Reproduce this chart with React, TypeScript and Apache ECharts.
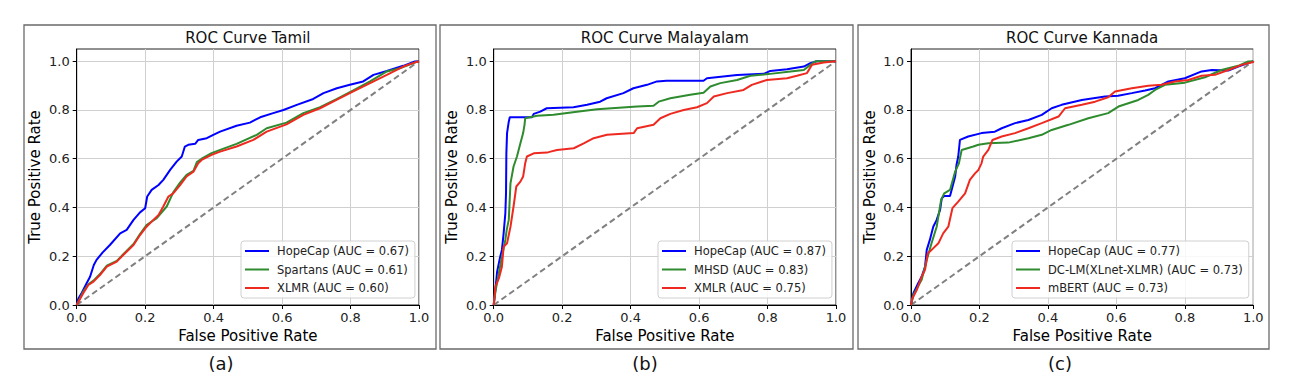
import React, { useEffect, useRef } from "react";
import * as echarts from "echarts";

type Pt = [number, number];

const panelTitles = ["ROC Curve Tamil", "ROC Curve Malayalam", "ROC Curve Kannada"];
const panelLabels = ["(a)", "(b)", "(c)"];
const axisTicks = [0, 0.2, 0.4, 0.6, 0.8, 1.0];

const tamilNames = ["HopeCap (AUC = 0.67)", "Spartans (AUC = 0.61)", "XLMR (AUC = 0.60)"];
const malayalamNames = ["HopeCap (AUC = 0.87)", "MHSD (AUC = 0.83)", "XMLR (AUC = 0.75)"];
const kannadaNames = ["HopeCap (AUC = 0.77)", "DC-LM(XLnet-XLMR) (AUC = 0.73)", "mBERT (AUC = 0.73)"];

const tamilHopeCap: Pt[] = [
  [0, 0], [0.005, 0.027], [0.015, 0.05], [0.029, 0.089], [0.039, 0.116], [0.05, 0.164], [0.058, 0.185],
  [0.076, 0.216], [0.097, 0.246], [0.127, 0.294], [0.146, 0.308], [0.166, 0.349], [0.185, 0.38],
  [0.2, 0.397], [0.206, 0.445], [0.219, 0.472], [0.239, 0.492], [0.253, 0.513], [0.273, 0.554],
  [0.292, 0.588], [0.307, 0.609], [0.316, 0.65], [0.326, 0.657], [0.346, 0.661], [0.355, 0.677],
  [0.38, 0.684], [0.399, 0.698], [0.419, 0.711], [0.467, 0.735], [0.506, 0.748], [0.536, 0.77],
  [0.574, 0.787], [0.604, 0.8], [0.643, 0.821], [0.691, 0.845], [0.721, 0.869], [0.76, 0.889],
  [0.798, 0.903], [0.837, 0.917], [0.867, 0.944], [0.906, 0.96], [0.954, 0.981], [0.988, 0.999], [1, 1],
];
const tamilSpartans: Pt[] = [
  [0, 0], [0.019, 0.055], [0.034, 0.085], [0.049, 0.1], [0.068, 0.127], [0.088, 0.161], [0.117, 0.181],
  [0.136, 0.208], [0.166, 0.25], [0.185, 0.291], [0.204, 0.328], [0.234, 0.356], [0.263, 0.404],
  [0.282, 0.462], [0.302, 0.502], [0.321, 0.534], [0.341, 0.55], [0.351, 0.586], [0.365, 0.6],
  [0.394, 0.623], [0.419, 0.636], [0.467, 0.661], [0.526, 0.698], [0.555, 0.725], [0.613, 0.748],
  [0.662, 0.787], [0.711, 0.811], [0.759, 0.844], [0.808, 0.88], [0.857, 0.917], [0.906, 0.958],
  [0.944, 0.971], [0.993, 0.997], [1, 1],
];
const tamilXLMR: Pt[] = [
  [0, 0], [0.019, 0.048], [0.034, 0.082], [0.049, 0.096], [0.068, 0.123], [0.088, 0.157], [0.117, 0.178],
  [0.136, 0.205], [0.166, 0.246], [0.185, 0.287], [0.204, 0.321], [0.224, 0.349], [0.239, 0.369],
  [0.253, 0.404], [0.268, 0.445], [0.282, 0.458], [0.302, 0.492], [0.321, 0.527], [0.341, 0.547],
  [0.355, 0.581], [0.365, 0.595], [0.394, 0.616], [0.419, 0.629], [0.467, 0.65], [0.516, 0.677],
  [0.555, 0.711], [0.613, 0.741], [0.662, 0.78], [0.711, 0.807], [0.759, 0.841], [0.808, 0.876],
  [0.857, 0.91], [0.906, 0.944], [0.954, 0.978], [0.993, 0.997], [1, 1],
];

const malayalamHopeCap: Pt[] = [
  [0, 0], [0.005, 0.062], [0.01, 0.137], [0.019, 0.198], [0.024, 0.226], [0.029, 0.294], [0.034, 0.376],
  [0.036, 0.458], [0.037, 0.622], [0.039, 0.705], [0.044, 0.752], [0.047, 0.77], [0.112, 0.77],
  [0.117, 0.784], [0.136, 0.793], [0.155, 0.807], [0.233, 0.811], [0.273, 0.821], [0.311, 0.834],
  [0.33, 0.848], [0.379, 0.869], [0.408, 0.889], [0.448, 0.903], [0.477, 0.917], [0.505, 0.92],
  [0.613, 0.92], [0.623, 0.93], [0.711, 0.943], [0.789, 0.948], [0.808, 0.96], [0.857, 0.967],
  [0.906, 0.978], [0.925, 0.992], [0.944, 1.0], [1, 1],
];
const malayalamMHSD: Pt[] = [
  [0, 0], [0.005, 0.055], [0.015, 0.13], [0.024, 0.198], [0.034, 0.267], [0.038, 0.308], [0.044, 0.349],
  [0.049, 0.499], [0.058, 0.568], [0.068, 0.609], [0.078, 0.663], [0.086, 0.705], [0.09, 0.739],
  [0.092, 0.766], [0.127, 0.776], [0.175, 0.78], [0.243, 0.793], [0.302, 0.803], [0.419, 0.814],
  [0.467, 0.817], [0.482, 0.834], [0.516, 0.848], [0.574, 0.862], [0.613, 0.871], [0.633, 0.896],
  [0.662, 0.91], [0.711, 0.923], [0.75, 0.94], [0.808, 0.948], [0.867, 0.958], [0.906, 0.964],
  [0.925, 0.985], [0.94, 1.0], [1, 1],
];
const malayalamXMLR: Pt[] = [
  [0, 0], [0.005, 0.075], [0.015, 0.109], [0.024, 0.157], [0.029, 0.239], [0.039, 0.253], [0.049, 0.321],
  [0.058, 0.404], [0.066, 0.486], [0.078, 0.506], [0.086, 0.527], [0.092, 0.581], [0.097, 0.609],
  [0.117, 0.622], [0.156, 0.625], [0.166, 0.629], [0.185, 0.636], [0.234, 0.643], [0.263, 0.663],
  [0.292, 0.684], [0.331, 0.698], [0.409, 0.705], [0.419, 0.725], [0.467, 0.739], [0.487, 0.766],
  [0.516, 0.784], [0.555, 0.8], [0.594, 0.811], [0.623, 0.828], [0.643, 0.855], [0.682, 0.869],
  [0.73, 0.882], [0.754, 0.903], [0.798, 0.923], [0.857, 0.93], [0.886, 0.94], [0.915, 0.951],
  [0.93, 0.985], [0.964, 0.995], [1, 1],
];

const kannadaHopeCap: Pt[] = [
  [0, 0], [0.007, 0.048], [0.021, 0.089], [0.031, 0.116], [0.041, 0.157], [0.046, 0.226], [0.055, 0.267],
  [0.065, 0.321], [0.075, 0.349], [0.085, 0.39], [0.09, 0.438], [0.097, 0.447], [0.114, 0.447],
  [0.12, 0.479], [0.129, 0.527], [0.133, 0.575], [0.138, 0.609], [0.143, 0.677], [0.167, 0.691],
  [0.206, 0.705], [0.245, 0.711], [0.265, 0.725], [0.304, 0.746], [0.343, 0.759], [0.382, 0.78],
  [0.411, 0.807], [0.44, 0.821], [0.499, 0.841], [0.567, 0.855], [0.605, 0.858], [0.645, 0.869],
  [0.684, 0.88], [0.713, 0.889], [0.752, 0.917], [0.8, 0.93], [0.849, 0.958], [0.879, 0.964],
  [0.927, 0.962], [0.956, 0.978], [0.995, 0.997], [1, 1],
];
const kannadaDCLM: Pt[] = [
  [0, 0], [0.007, 0.041], [0.031, 0.103], [0.046, 0.185], [0.06, 0.253], [0.075, 0.321], [0.088, 0.431],
  [0.097, 0.458], [0.114, 0.472], [0.129, 0.547], [0.14, 0.581], [0.148, 0.636], [0.182, 0.65],
  [0.197, 0.657], [0.226, 0.663], [0.284, 0.666], [0.343, 0.684], [0.382, 0.698], [0.411, 0.718],
  [0.46, 0.739], [0.518, 0.766], [0.576, 0.787], [0.606, 0.814], [0.664, 0.841], [0.693, 0.862],
  [0.713, 0.882], [0.742, 0.903], [0.8, 0.912], [0.859, 0.934], [0.907, 0.964], [0.956, 0.981],
  [0.985, 0.999], [1, 1],
];
const kannadaMBERT: Pt[] = [
  [0, 0], [0.004, 0.027], [0.017, 0.062], [0.031, 0.116], [0.041, 0.144], [0.049, 0.212], [0.055, 0.219],
  [0.08, 0.253], [0.094, 0.294], [0.109, 0.321], [0.121, 0.397], [0.138, 0.424], [0.158, 0.458],
  [0.172, 0.513], [0.187, 0.54], [0.197, 0.554], [0.206, 0.581], [0.211, 0.609], [0.226, 0.636],
  [0.238, 0.677], [0.265, 0.691], [0.304, 0.705], [0.343, 0.725], [0.382, 0.746], [0.431, 0.773],
  [0.45, 0.807], [0.499, 0.821], [0.538, 0.834], [0.576, 0.852], [0.596, 0.876], [0.645, 0.889],
  [0.693, 0.899], [0.732, 0.903], [0.771, 0.917], [0.81, 0.923], [0.849, 0.94], [0.888, 0.944],
  [0.927, 0.964], [0.966, 0.985], [1.0, 0.997], [1, 1],
];
const diagonal: Pt[] = [[0, 0], [1, 1]];

const COLORS = ["#0000ff", "#2e8b2e", "#ee2a20"];
const FONT = "DejaVu Sans";

export default function App() {
  const ref = useRef<HTMLDivElement>(null);
  useEffect(() => {
    document.body.style.margin = "0";
    const chart = echarts.init(ref.current!, null, { renderer: "svg" });

    const plots = [
      { left: 76.7, legendLeft: 241, legendWidth: 172, box: [24, 436], labelX: 221, names: tamilNames, data: [tamilHopeCap, tamilSpartans, tamilXLMR] },
      { left: 493.7, legendLeft: 658, legendWidth: 172, box: [440, 853], labelX: 645, names: malayalamNames, data: [malayalamHopeCap, malayalamMHSD, malayalamXMLR] },
      { left: 911, legendLeft: 1012, legendWidth: 235, box: [858, 1269], labelX: 1060, names: kannadaNames, data: [kannadaHopeCap, kannadaDCLM, kannadaMBERT] },
    ];
    const W = 342.3;
    const TOP = 49;
    const H = 256;

    const grids = plots.map((p) => ({
      left: p.left, top: TOP, width: W, height: H,
      show: true, borderColor: "#222", borderWidth: 1, backgroundColor: "transparent",
    }));
    const fmt = (v: number) => (Math.abs(v * 5 - Math.round(v * 5)) < 1e-6 ? v.toFixed(1) : "");
    const xAxes = plots.map((_, i) => ({
      type: "value", gridIndex: i, min: 0, max: 1, interval: 0.2,
      name: "False Positive Rate", nameLocation: "middle", nameGap: 21,
      nameTextStyle: { fontFamily: FONT, fontSize: 15, color: "#000" },
      axisLine: { show: true, lineStyle: { color: "#000", width: 1 } },
      axisTick: { show: true, inside: false, length: 4, lineStyle: { color: "#000" } },
      axisLabel: { fontFamily: FONT, fontSize: 13, color: "#222", margin: 6, formatter: fmt },
      splitLine: { show: true, lineStyle: { color: "#d0d0d0", width: 1 } },
    }));
    const yAxes = plots.map((_, i) => ({
      type: "value", gridIndex: i, min: 0, max: 1.05, interval: 0.2,
      name: "True Positive Rate", nameLocation: "middle", nameGap: 34, nameRotate: 90,
      nameTextStyle: { fontFamily: FONT, fontSize: 15, color: "#000" },
      axisLine: { show: true, lineStyle: { color: "#000", width: 1 } },
      axisTick: { show: true, inside: false, length: 4, lineStyle: { color: "#000" }, customValues: axisTicks },
      axisLabel: { fontFamily: FONT, fontSize: 13, color: "#222", margin: 7, formatter: fmt, customValues: axisTicks, showMaxLabel: true },
      splitLine: { show: true, lineStyle: { color: "#d0d0d0", width: 1 } },
    }));

    const series: any[] = [];
    plots.forEach((p, i) => {
      series.push({
        type: "line", xAxisIndex: i, yAxisIndex: i, data: diagonal, symbol: "none", silent: true,
        lineStyle: { color: "#808080", width: 2, type: [6, 3.5] }, z: 1,
      });
      p.data.forEach((d, k) => {
        series.push({
          type: "line", name: p.names[k], xAxisIndex: i, yAxisIndex: i, data: d,
          symbol: "none", showSymbol: false, color: COLORS[k],
          lineStyle: { color: COLORS[k], width: 2 }, z: 2 + k,
        });
      });
    });

    const legends = plots.map((p) => ({
      data: p.names, orient: "vertical", left: p.legendLeft, top: 241, width: p.legendWidth,
      icon: "rect", itemWidth: 24, itemHeight: 2, itemGap: 5.5, selectedMode: false,
      padding: [3.5, 6, 3.5, 4],
      backgroundColor: "rgba(255,255,255,0.85)", borderColor: "#d0d0d0", borderWidth: 1, borderRadius: 3,
      textStyle: { fontFamily: FONT, fontSize: 11.5, color: "#222", lineHeight: 13, padding: [0, 0, 0, 3] },
    }));

    const graphics: any[] = [];
    plots.forEach((p, i) => {
      graphics.push({
        type: "rect", shape: { x: p.box[0], y: 25, width: p.box[1] - p.box[0], height: 324 },
        style: { fill: "none", stroke: "#6a6a6a", lineWidth: 1.3 }, silent: true, z: -10,
      });
      graphics.push({
        type: "text", x: p.left + W / 2, y: 38,
        style: { text: panelTitles[i], fontFamily: FONT, fontSize: 15, fill: "#111", textAlign: "center", textVerticalAlign: "middle" },
      });
      graphics.push({
        type: "text", x: p.labelX, y: 363,
        style: { text: panelLabels[i], fontFamily: FONT, fontSize: 18, fill: "#111", textAlign: "center", textVerticalAlign: "middle" },
      });
    });

    chart.setOption({
      animation: false,
      backgroundColor: "#fff",
      grid: grids,
      xAxis: xAxes,
      yAxis: yAxes,
      legend: legends,
      series,
      graphic: graphics,
    });
    return () => chart.dispose();
  }, []);
  return <div ref={ref} style={{ width: 1298, height: 392 }} />;
}
